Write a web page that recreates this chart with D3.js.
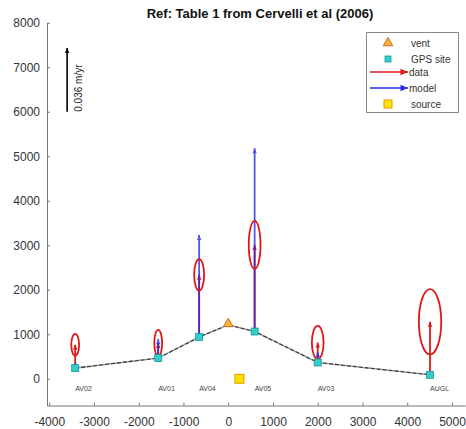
<html lang="en">
<head>
	<meta charset="utf-8">
	<title>Cervelli 2006 vertical velocities</title>
	<script src="https://d3js.org/d3.v7.min.js"></script>
	<style>
		body { margin: 0; background: #fff; }
		svg { display: block; font-family: "Liberation Sans", Arial, sans-serif; }
		.tick text { fill: #333; font-size: 12px; }
		.domain, .tick line { stroke: #777; }
		.site-label { font-size: 7px; fill: #444; }
		.legend text { font-size: 10px; fill: #333; }
	</style>
</head>
<body>
	<svg id="chart" width="466" height="429"></svg>
<script>
	// GPS stations (x = distance in m, y = elevation in m)
	var stations = ["AV02", "AV01", "AV04", "AV05", "AV03", "AUGL"];
	var siteX = [-3420, -1565, -650, 590, 2000, 4510];
	var siteY = [240, 465, 937, 1062, 366, 90];
	// vertical velocities, m/yr
	var dataUp = [0.0132, 0.0085, 0.0352, 0.0490, 0.0113, 0.0300];
	var modelUp = [0.0030, 0.0107, 0.0578, 0.1037, 0.0060, 0.0015];
	// 1-sigma error ellipse radii, m/yr
	var sigmaUp = [0.0062, 0.0075, 0.0089, 0.0136, 0.0094, 0.0185];
	var sigmaEast = [0.0022, 0.0022, 0.0028, 0.0033, 0.0033, 0.0063];
	var vent = {x: 0, y: 1212};
	var source = {x: 250, y: 0};
	// reference arrow
	var refVel = 0.036, refX = -3600, refY = 6000;
	var velScale = 1430 / refVel;   // plot units per m/yr

	var xTicks = [-4000, -3000, -2000, -1000, 0, 1000, 2000, 3000, 4000, 5000];
	var yTicks = [0, 1000, 2000, 3000, 4000, 5000, 6000, 7000, 8000];

	var svg = d3.select("#chart");
	var x = d3.scaleLinear().domain([-4050, 5300]).range([47, 465.4]);
	var y = d3.scaleLinear().domain([-600, 8000]).range([405.5, 22.7]);
	var plain = function (d) { return String(d); };

	// axes, matlab style inward ticks
	svg.append("g")
		.attr("transform", "translate(0," + y(-600) + ")")
		.call(d3.axisBottom(x).tickValues(xTicks).tickFormat(plain).tickSize(-3).tickPadding(12).tickSizeOuter(0));
	svg.append("g")
		.attr("transform", "translate(" + x(-4050) + ",0)")
		.call(d3.axisLeft(y).tickValues(yTicks).tickFormat(plain).tickSize(-3).tickPadding(7).tickSizeOuter(0));

	// title
	svg.append("text")
		.attr("x", 260).attr("y", 18)
		.attr("text-anchor", "middle")
		.style("font-size", "13px").style("font-weight", "bold").style("fill", "#111")
		.text("Ref: Table 1 from Cervelli et al (2006)");

	function arrowHead(g, x0, y0, x1, y1, color, len, wid) {
		var dx = x1 - x0, dy = y1 - y0, L = Math.sqrt(dx * dx + dy * dy) || 1;
		var ux = dx / L, uy = dy / L;
		var bx = x1 - ux * len, by = y1 - uy * len;
		g.append("path")
			.attr("d", "M" + x1 + "," + y1 + "L" + (bx - uy * wid) + "," + (by + ux * wid) +
				"L" + (bx + uy * wid) + "," + (by - ux * wid) + "Z")
			.attr("fill", color);
	}

	function arrow(g, x0, y0, x1, y1, color, opacity, width, head) {
		var a = g.append("g").attr("opacity", opacity);
		a.append("line")
			.attr("x1", x0).attr("y1", y0).attr("x2", x1).attr("y2", y1)
			.attr("stroke", color).attr("stroke-width", width);
		head = head || 1;
		arrowHead(a, x0, y0, x1, y1, color, 5 * head, 2.2 * head);
	}

	// profile line through sites and vent
	var profile = siteX.map(function (d, i) { return {x: d, y: siteY[i]}; });
	profile.push(vent);
	profile.sort(function (a, b) { return a.x - b.x; });
	var line = d3.line().x(function (d) { return x(d.x); }).y(function (d) { return y(d.y); });
	svg.append("path").attr("d", line(profile))
		.attr("fill", "none").attr("stroke", "#aaa").attr("stroke-width", 1.6);
	svg.append("path").attr("d", line(profile))
		.attr("fill", "none").attr("stroke", "#333").attr("stroke-width", 1.1)
		.attr("stroke-dasharray", "4,2");

	var vec = svg.append("g");
	stations.forEach(function (s, i) {
		var x0 = x(siteX[i]), y0 = y(siteY[i]);
		var yd = y(siteY[i] + dataUp[i] * velScale);
		var ym = y(siteY[i] + modelUp[i] * velScale);
		arrow(vec, x0, y0, x0, yd, "#e01818", 1, 1.8);
		arrow(vec, x0, y0, x0, ym, "#2a2ae8", 0.8, 1.8);
		vec.append("ellipse")
			.attr("cx", x0).attr("cy", yd)
			.attr("rx", x(siteX[i] + sigmaEast[i] * velScale) - x0)
			.attr("ry", yd - y(siteY[i] + (dataUp[i] + sigmaUp[i]) * velScale))
			.attr("fill", "none").attr("stroke", "#e01818").attr("stroke-width", 1.8);
	});

	// vent
	var tri = d3.symbol().type(d3.symbolTriangle).size(40);
	svg.append("path").attr("d", tri())
		.attr("transform", "translate(" + x(vent.x) + "," + (y(vent.y) - 1) + ")")
		.attr("fill", "#f7b733").attr("stroke", "#d2691e").attr("stroke-width", 1);

	// sites
	svg.selectAll(".site").data(stations).enter().append("rect")
		.attr("class", "site")
		.attr("x", function (d, i) { return x(siteX[i]) - 3.5; })
		.attr("y", function (d, i) { return y(siteY[i]) - 3.5; })
		.attr("width", 7).attr("height", 7)
		.attr("fill", "#33cccc").attr("stroke", "#1a9a9a").attr("stroke-width", 0.8);

	svg.selectAll(".site-label").data(stations).enter().append("text")
		.attr("class", "site-label")
		.attr("x", function (d, i) { return x(siteX[i]); })
		.attr("y", 391)
		.text(function (d) { return d; });

	// source
	svg.append("rect")
		.attr("x", x(source.x) - 4.5).attr("y", y(source.y) - 4.5)
		.attr("width", 9).attr("height", 9)
		.attr("fill", "#ffe000").attr("stroke", "#e0a000").attr("stroke-width", 1);

	// reference arrow
	var ref = svg.append("g");
	arrow(ref, x(refX), y(refY), x(refX), y(refY + refVel * velScale), "#000", 1, 1.6);
	ref.append("text")
		.attr("transform", "translate(" + (x(refX) + 15) + "," + y(refY) + ") rotate(-90)")
		.style("font-size", "10px").style("fill", "#222")
		.text("0.036 m/yr");

	// legend
	var lg = svg.append("g").attr("class", "legend");
	lg.append("rect").attr("x", 366.5).attr("y", 32.5).attr("width", 92).attr("height", 80)
		.attr("fill", "#fff").attr("stroke", "#888").attr("stroke-width", 1);
	var rows = [43, 59, 72, 88, 104];
	lg.append("path").attr("d", tri())
		.attr("transform", "translate(388," + rows[0] + ")")
		.attr("fill", "#f7b733").attr("stroke", "#d2691e");
	lg.append("rect").attr("x", 385).attr("y", rows[1] - 3).attr("width", 6).attr("height", 6)
		.attr("fill", "#33cccc").attr("stroke", "#1a9a9a").attr("stroke-width", 0.8);
	arrow(lg, 370, rows[2], 408, rows[2], "#e01818", 1, 1.6, 1.5);
	arrow(lg, 370, rows[3], 408, rows[3], "#2a2ae8", 1, 1.6, 1.5);
	lg.append("rect").attr("x", 384).attr("y", rows[4] - 4).attr("width", 8).attr("height", 8)
		.attr("fill", "#ffe000").attr("stroke", "#e0a000");
	var names = ["vent", "GPS site", "data", "model", "source"];
	lg.selectAll("text.lab").data(names).enter().append("text")
		.attr("x", function (d, i) { return (i == 2 || i == 3) ? 409 : 411; })
		.attr("y", function (d, i) { return rows[i] + 3.5; })
		.text(function (d) { return d; });
</script>
</body>
</html>
